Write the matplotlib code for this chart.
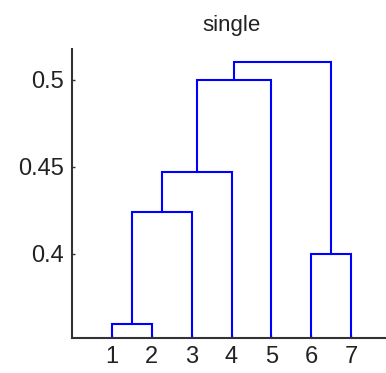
import matplotlib.pyplot as plt

# leaves in the order they appear along x
leaf_labels = ['1', '2', '3', '4', '5', '6', '7']
# merges: (left cluster, right cluster, height); clusters 0-6 are leaves, 7+ are merges
merge_left = [0, 7, 8, 9, 5, 10]
merge_right = [1, 2, 3, 4, 6, 11]
merge_height = [0.360, 0.4243, 0.4473, 0.500, 0.400, 0.5105]

fig = plt.figure(figsize=(3.86, 3.73), dpi=100)
ax = fig.add_axes([72 / 386, 35 / 373, 319 / 386, 289 / 373])

pos = {i: i + 1 for i in range(len(leaf_labels))}
hgt = {i: 0.0 for i in range(len(leaf_labels))}
for k, (a, b, h) in enumerate(zip(merge_left, merge_right, merge_height)):
    xa, xb = pos[a], pos[b]
    ax.plot([xa, xa, xb, xb], [hgt[a], h, h, hgt[b]], color='#0000ff', lw=1.5,
            solid_joinstyle='miter')
    cid = len(leaf_labels) + k
    pos[cid] = (xa + xb) / 2
    hgt[cid] = h

ax.set_xlim(0, 8)
ax.set_ylim(0.3517, 0.5178)
ax.set_xticks(range(1, len(leaf_labels) + 1))
ax.set_xticklabels(leaf_labels)
ax.set_yticks([0.4, 0.45, 0.5])
ax.set_yticklabels(['0.4', '0.45', '0.5'])

for s in ['top', 'right']:
    ax.spines[s].set_visible(False)
for s in ['left', 'bottom']:
    ax.spines[s].set_color('#333333')
    ax.spines[s].set_linewidth(1.5)
ax.tick_params(direction='in', length=2, width=1, color='#333333', pad=6)
for lab in ax.get_xticklabels() + ax.get_yticklabels():
    lab.set_family('Liberation Sans')
    lab.set_fontsize(17)
    lab.set_color('#222222')

ax.set_title('single', family='Liberation Sans', fontsize=16, color='#222222', pad=13)

fig.savefig('out.png', dpi=100)
